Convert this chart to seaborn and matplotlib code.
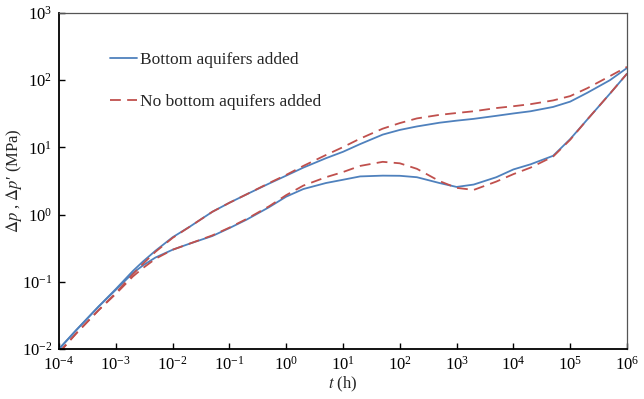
import numpy as np
import pandas as pd
import matplotlib
matplotlib.use("Agg")
import matplotlib.pyplot as plt
import seaborn as sns
from matplotlib.ticker import NullLocator

# ---- data ----
t = [1e-4, 2e-4, 5e-4, 1e-3, 2e-3, 3e-3, 5e-3, 1e-2, 2e-2, 5e-2, 0.1, 0.2, 0.5,
     1, 2, 5, 10, 20, 50, 100, 200, 500, 1e3, 2e3, 5e3, 1e4, 2e4, 5e4, 1e5,
     2e5, 5e5, 1e6]

blue_p = [0.0100, 0.019, 0.043, 0.078, 0.145, 0.20, 0.29, 0.46, 0.66, 1.1, 1.5,
          2.0, 2.9, 3.8, 5.0, 6.9, 8.6, 11.2, 15.5, 18.2, 20.5, 23.3, 25.0, 26.6,
          29.5, 32.0, 34.5, 40.0, 48.0, 65.0, 100.0, 152.0]
blue_dp = [0.0100, 0.019, 0.043, 0.076, 0.135, 0.175, 0.23, 0.30, 0.37, 0.48,
           0.63, 0.84, 1.29, 1.85, 2.4, 2.95, 3.3, 3.7, 3.8, 3.78, 3.6, 2.95,
           2.58, 2.8, 3.6, 4.7, 5.6, 7.5, 13.3, 26.0, 63.0, 125.0]
red_p = [0.0088, 0.017, 0.038, 0.068, 0.13, 0.185, 0.28, 0.45, 0.66, 1.1, 1.5,
         2.0, 2.95, 3.9, 5.3, 7.7, 10.1, 13.5, 19.0, 23.0, 27.0, 30.5, 32.5, 34.5,
         38.5, 41.0, 44.0, 50.0, 58.0, 76.0, 115.0, 158.0]
red_dp = [0.0088, 0.017, 0.038, 0.066, 0.12, 0.16, 0.22, 0.30, 0.37, 0.49, 0.64,
          0.86, 1.33, 1.95, 2.7, 3.6, 4.3, 5.3, 6.1, 5.8, 4.8, 3.15, 2.5, 2.33,
          3.1, 4.0, 5.0, 7.3, 13.0, 26.0, 63.0, 125.0]

scenarios = ["Bottom aquifers added", "No bottom aquifers added"]
x_ticks = [1e-4, 1e-3, 1e-2, 1e-1, 1e0, 1e1, 1e2, 1e3, 1e4, 1e5, 1e6]
y_ticks = [1e-2, 1e-1, 1e0, 1e1, 1e2, 1e3]

rows = []
for scen, curve, vals in [(scenarios[0], "p", blue_p), (scenarios[0], "dp", blue_dp),
                          (scenarios[1], "p", red_p), (scenarios[1], "dp", red_dp)]:
    for ti, v in zip(t, vals):
        rows.append({"t": ti, "value": v, "scenario": scen, "curve": curve})
df = pd.DataFrame(rows)

# ---- style ----
sns.set_theme(style="white")
plt.rcParams["font.family"] = ["Liberation Serif", "DejaVu Serif"]
plt.rcParams["mathtext.fontset"] = "stix"
plt.rcParams["axes.unicode_minus"] = False

fig = plt.figure(figsize=(6.44, 3.99), dpi=100)
ax = fig.add_axes([59 / 644, 1 - 349 / 399, (627 - 59) / 644, (349 - 13) / 399])

palette = {scenarios[0]: "#4F81BD", scenarios[1]: "#C0504D"}
dashes = {scenarios[0]: "", scenarios[1]: (6, 3.5)}
sns.lineplot(data=df, x="t", y="value", hue="scenario", style="scenario",
             units="curve", estimator=None, sort=False, palette=palette,
             dashes=dashes, linewidth=1.3, ax=ax)

ax.set_xscale("log")
ax.set_yscale("log")
ax.set_xlim(1e-4, 1e6)
ax.set_ylim(1e-2, 1e3)
ax.set_xticks(x_ticks)
ax.set_yticks(y_ticks)
ax.xaxis.set_minor_locator(NullLocator())
ax.yaxis.set_minor_locator(NullLocator())
ax.tick_params(axis="both", which="major", direction="in", length=4, width=1,
               labelsize=12, colors="black", pad=5)
ax.tick_params(top=False, right=False, bottom=True, left=True)

for side in ["left", "bottom"]:
    ax.spines[side].set_color("black")
    ax.spines[side].set_linewidth(1.3)
for side in ["top", "right"]:
    ax.spines[side].set_color("#555555")
    ax.spines[side].set_linewidth(0.9)

ax.set_xlabel("$t$ (h)", fontsize=12, labelpad=1)
ax.set_ylabel("$\\Delta p$ , $\\Delta p$\u2032 (MPa)", fontsize=12)
ax.yaxis.set_label_coords(-0.062, 0.5)

handles, labels = ax.get_legend_handles_labels()
leg = ax.legend(handles=handles, labels=labels, loc="center left",
                bbox_to_anchor=(0.062, 0.797), frameon=False, fontsize=12.5,
                handlelength=1.55, handletextpad=0.2, labelspacing=1.5)

fig.savefig("out.png", dpi=100)
